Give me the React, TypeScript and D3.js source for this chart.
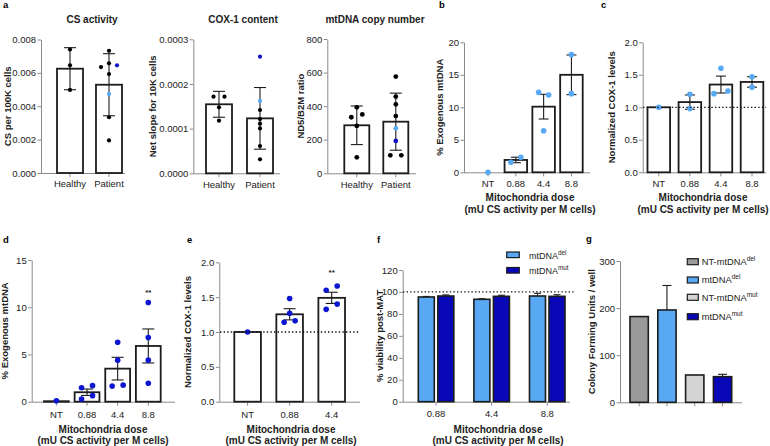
import { useEffect, useRef } from 'react';
import * as d3 from 'd3';

const FONT = "'Liberation Sans', Arial, Helvetica, sans-serif";
const AXIS = '#8a8a8a';
const INK = '#1c1c1c';
const TXT = '#222';
const LIGHT = '#58a8f4';
const DARK_PT = '#0c16d0';
const DARK_BAR = '#0808b8';
const GRAY = '#9a9a9a';
const LGRAY = '#d4d4d4';

type Kind = 'k' | 'lb' | 'db';

// ---- panel a ----
const groups = ['Healthy', 'Patient'];
const csMean = [0.00625, 0.00529];
const csErr = [0.00126, 0.00186];
const csPts = [
  [0.0074, 0.00645, 0.00498],
  [0.00732, 0.00657, 0.00635, 0.00645, 0.00593, 0.00474, 0.00334, 0.00195],
];
const csKinds: Kind[][] = [
  ['k', 'k', 'k'],
  ['k', 'k', 'k', 'db', 'k', 'lb', 'k', 'k'],
];
const coxMean = [0.0001545, 0.000123];
const coxErr = [0.000029, 0.000069];
const coxPts = [
  [0.0001716, 0.0001716, 0.0001478, 0.0001179],
  [0.000261, 0.000162, 0.0001417, 0.0001215, 0.000111, 0.0001005, 0.0000611, 0.0000313],
];
const coxKinds: Kind[][] = [
  ['k', 'k', 'k', 'k'],
  ['db', 'lb', 'k', 'k', 'k', 'k', 'k', 'k'],
];
const mtMean = [286, 307.5];
const mtErr = [115, 170];
const mtPts = [
  [393, 334, 351, 282, 95],
  [576, 457, 411, 341, 268, 193, 107, 107],
];
const mtKinds: Kind[][] = [
  ['k', 'k', 'k', 'k', 'k'],
  ['k', 'k', 'k', 'k', 'lb', 'db', 'k', 'k'],
];

// ---- panels b-e ----
const doses = ['NT', '0.88', '4.4', '8.8'];
const bMean = [0, 1.9, 10.1, 15.0];
const bErr = [0, 0.42, 1.9, 3.05];
const bPts = [[0], [1.54, 2.3], [12.3, 11.9, 6.4], [18.1, 12.1]];

const cMean = [1.0, 1.08, 1.35, 1.39];
const cErr = [0, 0.11, 0.13, 0.08];
const cPts = [[1.0], [1.2, 0.98], [1.21, 1.25, 1.6], [1.47, 1.31]];

const dMean = [0.05, 1.0, 3.5, 5.9];
const dErr = [0, 0.34, 1.2, 1.8];
const dPts = [[0.1], [1.48, 1.7, 0.29, 0.64], [6.3, 4.4, 1.65, 1.75], [10.5, 6.8, 4.4, 1.95]];

const eDoses = ['NT', '0.88', '4.4'];
const eMean = [1.0, 1.254, 1.49];
const eErr = [0, 0.08, 0.08];
const ePts = [[1.0], [1.48, 1.27, 1.14, 1.16], [1.6, 1.66, 1.325, 1.4]];

// ---- panel f ----
const fDoses = ['0.88', '4.4', '8.8'];
const fSeries = ['del', 'mut'];
const fDel = [95.4, 93.3, 96.3];
const fDelErr = [0.5, 0.5, 2.5];
const fMut = [96.3, 96.0, 96.0];
const fMutErr = [1.0, 1.0, 1.5];

// ---- panel g ----
const gNames = ['NT-mtDNA', 'mtDNA', 'NT-mtDNA', 'mtDNA'];
const gSups = ['del', 'del', 'mut', 'mut'];
const gValues = [182, 196, 58, 54.4];
const gErr = [0, 52, 0, 5];

const doseLabel = ['Mitochondria dose', '(mU CS activity per M cells)'];

type Sel = d3.Selection<SVGSVGElement, unknown, null, undefined>;
type YScale = d3.ScaleLinear<number, number>;

function yAxis(svg: Sel, y: YScale, x0: number, ticks: number[], fmt: (v: number) => string) {
  const g = svg
    .append('g')
    .attr('transform', `translate(${x0},0)`)
    .call(d3.axisLeft(y).tickValues(ticks).tickFormat(fmt as any).tickSize(3.5).tickPadding(1.5).tickSizeOuter(0));
  g.attr('font-family', FONT).attr('font-size', 9.5);
  g.select('.domain').attr('stroke', AXIS);
  g.selectAll('.tick line').attr('stroke', AXIS);
  g.selectAll('.tick text').attr('fill', TXT);
}

function xAxis(svg: Sel, xb: d3.ScaleBand<string>, yBot: number, x0: number, x1: number, pad: number, labels = true) {
  svg.append('line').attr('x1', x0).attr('x2', x1).attr('y1', yBot + 0.5).attr('y2', yBot + 0.5).attr('stroke', AXIS);
  const ax = d3.axisBottom(xb).tickSize(4).tickPadding(pad).tickSizeOuter(0);
  if (!labels) ax.tickFormat(() => '');
  const g = svg.append('g').attr('transform', `translate(0,${yBot})`).call(ax);
  g.attr('font-family', FONT).attr('font-size', 9.5);
  g.select('.domain').remove();
  g.selectAll('.tick line').attr('stroke', AXIS);
  g.selectAll('.tick text').attr('fill', TXT);
}

function yLabel(svg: Sel, text: string, x: number, cy: number) {
  svg
    .append('text')
    .attr('transform', `translate(${x},${cy}) rotate(-90)`)
    .attr('text-anchor', 'middle')
    .attr('font-family', FONT)
    .attr('font-weight', 'bold')
    .attr('font-size', 9.5)
    .attr('fill', TXT)
    .text(text);
}

function xLabel(svg: Sel, lines: string[], cx: number, ys: number[]) {
  lines.forEach((l, i) => {
    svg
      .append('text')
      .attr('x', cx)
      .attr('y', ys[i])
      .attr('text-anchor', 'middle')
      .attr('font-family', FONT)
      .attr('font-weight', 'bold')
      .attr('font-size', 10)
      .attr('fill', TXT)
      .text(l);
  });
}

function letter(svg: Sel, t: string, x: number, y: number) {
  svg.append('text').attr('x', x).attr('y', y).attr('font-family', FONT).attr('font-weight', 'bold')
    .attr('font-size', 9.5).attr('fill', '#000').text(t);
}

function refLine(svg: Sel, y: number, x0: number, x1: number) {
  svg.append('line').attr('x1', x0).attr('x2', x1).attr('y1', y).attr('y2', y)
    .attr('stroke', '#111').attr('stroke-width', 1.3).attr('stroke-dasharray', '1.4,2.2');
}

function errBar(svg: Sel, cx: number, yMid: number, yUp: number, yDown: number | null, cap: number) {
  svg.append('line').attr('x1', cx).attr('x2', cx).attr('y1', yUp).attr('y2', yDown ?? yMid)
    .attr('stroke', INK).attr('stroke-width', 1.1);
  svg.append('line').attr('x1', cx - cap / 2).attr('x2', cx + cap / 2).attr('y1', yUp).attr('y2', yUp)
    .attr('stroke', INK).attr('stroke-width', 1.1);
  if (yDown !== null)
    svg.append('line').attr('x1', cx - cap / 2).attr('x2', cx + cap / 2).attr('y1', yDown).attr('y2', yDown)
      .attr('stroke', INK).attr('stroke-width', 1.1);
}

// dodge points that would overlap, GraphPad-style
function spreadX(vals: number[], y: YScale, r: number, d: number): number[] {
  const idx = vals.map((_, i) => i).sort((a, b) => vals[b] - vals[a]);
  const offs = new Array(vals.length).fill(0);
  let cluster: number[] = [idx[0]];
  const flush = () => {
    const m = [...cluster].sort((a, b) => a - b);
    const n = m.length;
    m.forEach((id, k) => {
      let o: number;
      if (n % 2) {
        const s = Math.ceil(k / 2);
        o = k === 0 ? 0 : k % 2 ? -s : s;
      } else {
        const s = Math.floor(k / 2) + 0.5;
        o = k % 2 ? s : -s;
      }
      offs[id] = o * d;
    });
  };
  for (let j = 1; j < idx.length; j++) {
    const prev = cluster[cluster.length - 1];
    if (Math.abs(y(vals[idx[j]]) - y(vals[prev])) < 2 * r) cluster.push(idx[j]);
    else {
      flush();
      cluster = [idx[j]];
    }
  }
  flush();
  return offs;
}

interface DotPanel {
  x0: number; x1: number; yTop: number; yBot: number;
  max: number; ticks: number[]; fmt: (v: number) => string;
  cats: string[]; band: [number, number]; pad: number;
  means: number[]; errs: number[]; cap: number;
  pts: number[][]; kinds?: Kind[][]; color: string; r: number; spread: number;
  tickPad: number;
}

function dotPanel(svg: Sel, p: DotPanel) {
  const y = d3.scaleLinear().domain([0, p.max]).range([p.yBot, p.yTop]);
  const xb = d3.scaleBand<string>().domain(p.cats).range(p.band).paddingInner(p.pad).paddingOuter(0);
  const bw = xb.bandwidth();
  yAxis(svg, y, p.x0, p.ticks, p.fmt);
  xAxis(svg, xb, p.yBot, p.x0, p.x1, p.tickPad);
  p.cats.forEach((c, i) => {
    if (p.means[i] <= 0) return;
    svg.append('rect').attr('x', xb(c)!).attr('y', y(p.means[i])).attr('width', bw)
      .attr('height', p.yBot - y(p.means[i])).attr('fill', '#fff').attr('stroke', INK).attr('stroke-width', 1.8);
  });
  p.cats.forEach((c, i) => {
    if (p.errs[i] <= 0) return;
    const cx = xb(c)! + bw / 2;
    errBar(svg, cx, y(p.means[i]), y(p.means[i] + p.errs[i]), y(p.means[i] - p.errs[i]), p.cap);
  });
  p.cats.forEach((c, i) => {
    const cx = xb(c)! + bw / 2;
    const offs = spreadX(p.pts[i], y, p.r, p.spread);
    p.pts[i].forEach((v, j) => {
      const k = p.kinds ? p.kinds[i][j] : null;
      const fill = k === 'lb' ? LIGHT : k === 'db' ? '#1212c8' : k === 'k' ? '#000' : p.color;
      svg.append('circle').attr('cx', cx + offs[j]).attr('cy', y(v)).attr('r', p.r).attr('fill', fill);
    });
  });
  return { y, xb };
}

function title(svg: Sel, t: string, x: number, y: number) {
  svg.append('text').attr('x', x).attr('y', y).attr('text-anchor', 'middle').attr('font-family', FONT)
    .attr('font-weight', 'bold').attr('font-size', 10).attr('fill', TXT).text(t);
}

function stars(svg: Sel, x: number, y: number) {
  svg.append('text').attr('x', x).attr('y', y).attr('text-anchor', 'middle').attr('font-family', FONT)
    .attr('font-size', 8).attr('font-weight', 'bold').attr('fill', TXT).text('**');
}

function supText(svg: Sel, x: number, y: number, main: string, sup: string, size: number) {
  const t = svg.append('text').attr('x', x).attr('y', y).attr('font-family', FONT).attr('font-size', size).attr('fill', TXT);
  t.append('tspan').text(main);
  t.append('tspan').attr('dy', -4).attr('font-size', size * 0.7).text(sup);
}

function draw(svg: Sel) {
  svg.append('rect').attr('width', 770).attr('height', 446).attr('fill', '#fff');

  // a — CS activity
  letter(svg, 'a', 3, 8);
  const a1 = dotPanel(svg, {
    x0: 41, x1: 125, yTop: 39.5, yBot: 173, max: 0.008, ticks: d3.range(0, 0.0081, 0.002), fmt: d3.format('.3f'),
    cats: groups, band: [57, 122], pad: 0.333, means: csMean, errs: csErr, cap: 12,
    pts: csPts, kinds: csKinds, color: '#000', r: 2.1, spread: 8, tickPad: 3.5,
  });
  title(svg, 'CS activity', 92, 22.5);
  yLabel(svg, 'CS per 100K cells', 10.5, (a1.y(0) + a1.y(0.008)) / 2);

  const a2 = dotPanel(svg, {
    x0: 193.3, x1: 280, yTop: 39.3, yBot: 173.3, max: 0.0003, ticks: [0, 0.0001, 0.0002, 0.0003], fmt: d3.format('.4f'),
    cats: groups, band: [206, 273], pad: 0.366, means: coxMean, errs: coxErr, cap: 12,
    pts: coxPts, kinds: coxKinds, color: '#000', r: 2.1, spread: 11, tickPad: 3.5,
  });
  title(svg, 'COX-1 content', 243, 22.5);
  yLabel(svg, 'Net slope for 10K cells', 155.7, (a2.y(0) + a2.y(0.0003)) / 2);

  const a3 = dotPanel(svg, {
    x0: 327.3, x1: 416, yTop: 39, yBot: 173.3, max: 800, ticks: d3.range(0, 801, 200), fmt: d3.format('d'),
    cats: groups, band: [344.3, 408.3], pad: 0.359, means: mtMean, errs: mtErr, cap: 12,
    pts: mtPts, kinds: mtKinds, color: '#000', r: 2.4, spread: 11, tickPad: 3.5,
  });
  title(svg, 'mtDNA copy number', 375, 22.5);
  yLabel(svg, 'ND5/B2M ratio', 303.7, (a3.y(0) + a3.y(800)) / 2);

  // b
  letter(svg, 'b', 439, 8);
  const pb = dotPanel(svg, {
    x0: 464, x1: 590, yTop: 42.3, yBot: 172.3, max: 20, ticks: [0, 5, 10, 15, 20], fmt: d3.format('d'),
    cats: doses, band: [476.75, 582.7], pad: 0.19, means: bMean, errs: bErr, cap: 10,
    pts: bPts, color: LIGHT, r: 2.8, spread: 10, tickPad: 3.5,
  });
  yLabel(svg, '% Exogenous mtDNA', 443, (pb.y(0) + pb.y(20)) / 2);
  xLabel(svg, doseLabel, 530, [200.5, 212.8]);

  // c
  letter(svg, 'c', 601, 8);
  const pc = dotPanel(svg, {
    x0: 642.7, x1: 766, yTop: 42.3, yBot: 172.3, max: 2, ticks: [0, 0.5, 1, 1.5, 2], fmt: d3.format('.1f'),
    cats: doses, band: [647.5, 763.3], pad: 0.273, means: cMean, errs: cErr, cap: 10,
    pts: cPts, color: LIGHT, r: 2.8, spread: 14, tickPad: 3.5,
  });
  refLine(svg, pc.y(1), 643, 766);
  yLabel(svg, 'Normalized COX-1 levels', 614.5, (pc.y(0) + pc.y(2)) / 2);
  xLabel(svg, doseLabel, 703, [200.5, 212.8]);

  // d
  letter(svg, 'd', 3, 243);
  const pd = dotPanel(svg, {
    x0: 31.7, x1: 175, yTop: 260, yBot: 401.7, max: 15, ticks: [0, 5, 10, 15], fmt: d3.format('d'),
    cats: doses, band: [44, 160.7], pad: 0.19, means: dMean, errs: dErr, cap: 12,
    pts: dPts, color: DARK_PT, r: 2.8, spread: 11, tickPad: 5.5,
  });
  stars(svg, pd.xb('8.8')! + pd.xb.bandwidth() / 2, 295);
  yLabel(svg, '% Exogenous mtDNA', 7.5, (pd.y(0) + pd.y(15)) / 2);
  xLabel(svg, doseLabel, 103, [433, 443.6]);

  // e
  letter(svg, 'e', 187, 243);
  const pe = dotPanel(svg, {
    x0: 219.3, x1: 360, yTop: 262.3, yBot: 401.7, max: 2, ticks: [0, 0.5, 1, 1.5, 2], fmt: d3.format('.1f'),
    cats: eDoses, band: [234.3, 345], pad: 0.367, means: eMean, errs: eErr, cap: 12,
    pts: ePts, color: DARK_PT, r: 2.8, spread: 11, tickPad: 5.5,
  });
  refLine(svg, pe.y(1), 220, 359);
  stars(svg, pe.xb('4.4')! + pe.xb.bandwidth() / 2, 275);
  yLabel(svg, 'Normalized COX-1 levels', 191.3, (pe.y(0) + pe.y(2)) / 2);
  xLabel(svg, doseLabel, 291, [433, 443.6]);

  // f
  letter(svg, 'f', 377, 243);
  {
    const y = d3.scaleLinear().domain([0, 120]).range([401.7, 270]);
    const xg = d3.scaleBand<string>().domain(fDoses).range([418.3, 565]).paddingInner(0.361).paddingOuter(0);
    const xs = d3.scaleBand<string>().domain(fSeries).range([0, xg.bandwidth()]).paddingInner(0.18).paddingOuter(0);
    yAxis(svg, y, 402.7, d3.range(0, 121, 20), d3.format('d'));
    xAxis(svg, xg, 401.7, 402.7, 570, 5);
    refLine(svg, y(100), 403, 575);
    const series = [
      { key: 'del', vals: fDel, errs: fDelErr, fill: LIGHT },
      { key: 'mut', vals: fMut, errs: fMutErr, fill: DARK_BAR },
    ];
    fDoses.forEach((dz, i) => {
      series.forEach((s) => {
        const x = xg(dz)! + xs(s.key)!;
        const w = xs.bandwidth();
        svg.append('rect').attr('x', x).attr('y', y(s.vals[i])).attr('width', w).attr('height', 401.7 - y(s.vals[i]))
          .attr('fill', s.fill).attr('stroke', INK).attr('stroke-width', 1.6);
        errBar(svg, x + w / 2, y(s.vals[i]), y(s.vals[i] + s.errs[i]), null, 7);
      });
    });
    series.forEach((s, i) => {
      const ly = 252 + i * 15.5;
      svg.append('rect').attr('x', 506.7).attr('y', ly).attr('width', 12.6).attr('height', 5.6)
        .attr('fill', s.fill).attr('stroke', INK).attr('stroke-width', 1.2);
      supText(svg, 529, ly + 6.5, 'mtDNA', s.key, 9);
    });
    yLabel(svg, '% viability post-MAT', 383, (y(0) + y(120)) / 2);
    xLabel(svg, doseLabel, 498, [433, 443.6]);
  }

  // g
  letter(svg, 'g', 586, 242);
  {
    const y = d3.scaleLinear().domain([0, 300]).range([402.3, 261]);
    const keys = gNames.map((n, i) => `${n}${gSups[i]}`);
    const xb = d3.scaleBand<string>().domain(keys).range([630, 731.7]).paddingInner(0.342).paddingOuter(0);
    const fills = [GRAY, LIGHT, LGRAY, DARK_BAR];
    yAxis(svg, y, 620, [0, 100, 200, 300], d3.format('d'));
    xAxis(svg, xb, 402.3, 620, 742, 3, false);
    keys.forEach((k, i) => {
      const x = xb(k)!;
      const w = xb.bandwidth();
      svg.append('rect').attr('x', x).attr('y', y(gValues[i])).attr('width', w).attr('height', 402.3 - y(gValues[i]))
        .attr('fill', fills[i]).attr('stroke', INK).attr('stroke-width', 1.6);
      if (gErr[i] > 0) errBar(svg, x + w / 2, y(gValues[i]), y(gValues[i] + gErr[i]), null, 9);
    });
    keys.forEach((_, i) => {
      const cy = [261.7, 280, 297.3, 316.7][i];
      svg.append('rect').attr('x', 687.3).attr('y', cy - 3).attr('width', 11).attr('height', 6)
        .attr('fill', fills[i]).attr('stroke', INK).attr('stroke-width', 1.2);
      supText(svg, 701.7, cy + 3.4, gNames[i], gSups[i], 9.3);
    });
    yLabel(svg, 'Colony Forming Units / well', 594.7, (y(0) + y(300)) / 2);
  }
}

export default function App() {
  const ref = useRef<SVGSVGElement>(null);
  useEffect(() => {
    const svg = d3.select(ref.current!) as Sel;
    svg.selectAll('*').remove();
    draw(svg);
  }, []);
  return (
    <svg
      ref={ref}
      width={770}
      height={446}
      viewBox="0 0 770 446"
      style={{ position: 'absolute', left: 0, top: 0, display: 'block' }}
    />
  );
}
